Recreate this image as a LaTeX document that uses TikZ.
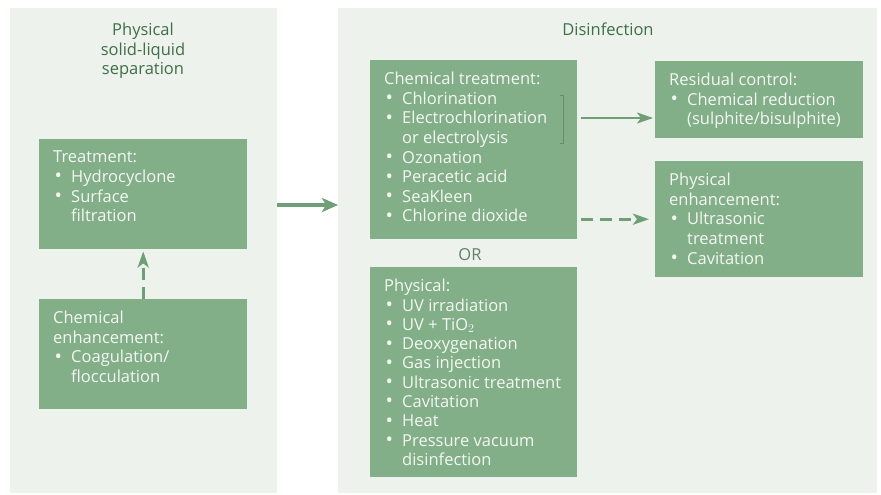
\documentclass[tikz,border=0pt]{standalone}
\usepackage{fontspec}
\setmainfont{Open Sans}
\usetikzlibrary{arrows.meta}
\definecolor{panelbg}{HTML}{EDF2EC}
\definecolor{boxgreen}{HTML}{82AE88}
\definecolor{titlegreen}{HTML}{3F6E48}
\definecolor{arrowgreen}{HTML}{6F9E77}
\definecolor{boxtext}{HTML}{F4F8F3}
\definecolor{orgrey}{HTML}{61806A}
\definecolor{brkgreen}{HTML}{668C6D}
\newcommand{\boxbody}[3]{\parbox[c][#2][t]{#1}{\raggedright #3}}
\newcommand{\itm}{\makebox[18pt][l]{\hspace{1.5pt}\raisebox{-0.4pt}{\scalebox{1.2}{\textbullet}}}}
\newcommand{\ind}{\hspace*{18pt}}
\begin{document}
\begin{tikzpicture}[x=1pt,y=1pt]
  \tikzstyle{every node}=[font=\fontsize{16.5}{19.6}\selectfont]
  \tikzstyle{panel}=[rectangle,fill=panelbg,inner sep=0,anchor=north west]
  \tikzstyle{gbox}=[rectangle,fill=boxgreen,text=boxtext,inner xsep=14pt,inner ysep=12pt,anchor=north west]
  \tikzstyle{paneltitle}=[text=titlegreen,inner sep=0,align=center]
  \tikzstyle{fatarrow}=[draw=arrowgreen,line width=4.5pt,-{Stealth[length=16pt,width=14pt,inset=4pt]}]
  \tikzstyle{thinarrow}=[draw=arrowgreen,line width=2.2pt,-{Stealth[length=16pt,width=11pt,inset=4pt]}]
  \tikzstyle{dasharrow}=[draw=arrowgreen,line width=3.2pt,dash pattern=on 12pt off 7pt,-{Stealth[length=16pt,width=11pt,inset=4pt]}]
  \useasboundingbox[fill=white] (0,0) rectangle (881,-495);
  % panels
  \node[panel,minimum width=267pt,minimum height=485pt] (sep) at (10,-8) {};
  \node[panel,minimum width=539pt,minimum height=485pt] (dis) at (338,-8) {};
  \node[paneltitle,anchor=north] (septitle) at (143,-23) {Physical\\solid-liquid\\separation};
  \node[paneltitle,anchor=base] (distitle) at (608,-36) {Disinfection};
  % left boxes
  \node[gbox] (treat) at (39,-139) {\boxbody{180pt}{86pt}{Treatment:\\
    \itm Hydrocyclone\\ \itm Surface\\ \ind filtration}};
  \node[gbox] (cenh) at (39,-299) {\boxbody{180pt}{86pt}{Chemical\\ enhancement:\\
    \itm Coagulation/\\ \ind flocculation}};
  % right boxes
  \node[gbox] (chem) at (370,-60) {\boxbody{179pt}{155pt}{Chemical treatment:\\
    \itm Chlorination\\ \itm Electrochlorination\\ \ind or electrolysis\\
    \itm Ozonation\\ \itm Peracetic acid\\ \itm SeaKleen\\ \itm Chlorine dioxide}};
  \node[text=orgrey,anchor=base] (or) at (470,-260) {OR};
  \node[gbox] (phys) at (370,-267) {\boxbody{179pt}{186pt}{\fontsize{16.5}{19.3}\selectfont
    Physical:\\
    \itm UV irradiation\\ \itm UV + TiO$_2$\\ \itm Deoxygenation\\ \itm Gas injection\\
    \itm Ultrasonic treatment\\ \itm Cavitation\\ \itm Heat\\
    \itm Pressure vacuum\\ \ind disinfection}};
  \node[gbox] (resid) at (655,-61) {\boxbody{180pt}{53pt}{Residual control:\\
    \itm Chemical reduction\\ \ind (sulphite/bisulphite)}};
  \node[gbox] (penh) at (655,-161) {\boxbody{180pt}{92pt}{Physical\\ enhancement:\\
    \itm Ultrasonic\\ \ind treatment\\ \itm Cavitation}};
  % bracket
  \coordinate (bt) at (560,-95);
  \coordinate (bb) at (560,-143);
  \coordinate (bm) at (563,-118);
  \coordinate (mid) at (0,-205);
  \draw[brkgreen,line width=0.8pt] (bt) -- ++(3,0) |- (bb);
  % arrows
  \draw[fatarrow] (sep.east |- mid) -- (dis.west |- mid);
  \draw[thinarrow,shorten <=4pt,shorten >=2pt] (chem.east |- bm) -- (resid.west |- bm);
  \draw[dasharrow,shorten <=4pt,shorten >=6pt] (chem.east |- penh.west) -- (penh.west);
  \draw[dasharrow,shorten >=2pt] (cenh.north) -- (treat.south);
\end{tikzpicture}
\end{document}
